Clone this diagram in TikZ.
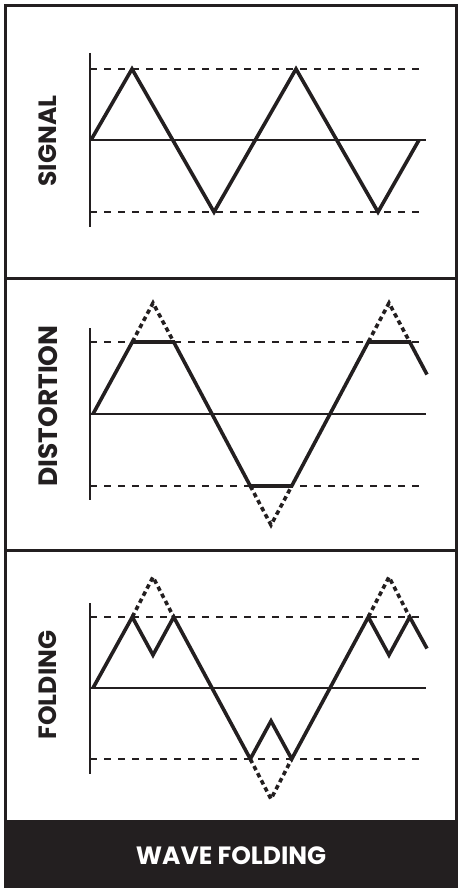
\documentclass[tikz,border=0pt]{standalone}
\usepackage{fontspec}
\setmainfont{Poppins}
\definecolor{ink}{HTML}{231F20}

\begin{document}
\begin{tikzpicture}[x=1pt, y=-1pt, line join=miter,
    frame/.style={draw=ink, line width=3pt},
    axisline/.style={draw=ink, line width=1.4pt},
    guide/.style={draw=ink, line width=1.4pt, dash pattern=on 7pt off 7pt},
    wave/.style={draw=ink, line width=3.6pt},
    ghost/.style={draw=ink, line width=3.6pt, dash pattern=on 4.5pt off 3.5pt},
    tag/.style={rotate=90, text=ink, font=\fontsize{25}{25}\selectfont\bfseries, inner sep=0pt}]
    \useasboundingbox (0,0) rectangle (459,888);
    % frame and footer
    \draw[frame] (5.5,820) -- (5.5,5.5) -- (456.5,5.5) -- (456.5,820);
    \draw[frame] (5.5,278) -- (456.5,278);
    \draw[frame] (5.5,550) -- (456.5,550);
    \fill[ink] (4,820) rectangle (458,888);
    \node[text=white, font=\fontsize{25}{25}\selectfont\bfseries, inner sep=0pt] (title) at (231,856) {WAVE FOLDING};

    % signal
    \node[tag] (signal) at (48,141) {SIGNAL};
    \draw[axisline] (90,53) -- (90,227);
    \draw[axisline] (90,140) -- (426,140);
    \draw[guide] (90,69) -- (426,69);
    \draw[guide] (90,212) -- (426,212);
    \draw[wave] (91,140) -- (132,69) -- (214,212) -- (296,69) -- (378,212) -- (419,140);

    % distortion
    \node[tag, font=\fontsize{26.5}{26.5}\selectfont\bfseries] (distortion) at (48,406) {DISTORTION};
    \draw[axisline] (90,328) -- (90,500);
    \draw[axisline] (90,414) -- (426,414);
    \draw[guide] (90,342) -- (426,342);
    \draw[guide] (90,486) -- (426,486);
    \draw[ghost] (132.3,342) -- (153,303) -- (173.7,342);
    \draw[ghost] (250.3,486) -- (271,525) -- (291.7,486);
    \draw[ghost] (368.3,342) -- (389,303) -- (409.7,342);
    \draw[wave] (93,414) -- (132.3,342) -- (173.7,342) -- (250.3,486) -- (291.7,486)
        -- (368.3,342) -- (409.7,342) -- (427,374.5);

    % folding
    \node[tag] (folding) at (48,685) {FOLDING};
    \draw[axisline] (90,603) -- (90,774);
    \draw[axisline] (90,688) -- (426,688);
    \draw[guide] (90,617) -- (426,617);
    \draw[guide] (90,759) -- (426,759);
    \draw[ghost] (132.3,617) -- (153,577) -- (173.7,617);
    \draw[ghost] (250.3,759) -- (271,799) -- (291.7,759);
    \draw[ghost] (368.3,617) -- (389,577) -- (409.7,617);
    \draw[wave] (93,688) -- (132.3,617) -- (153,655) -- (173.7,617) -- (250.3,759)
        -- (271,721) -- (291.7,759) -- (368.3,617) -- (389,655) -- (409.7,617) -- (427,648.5);
\end{tikzpicture}
\end{document}
